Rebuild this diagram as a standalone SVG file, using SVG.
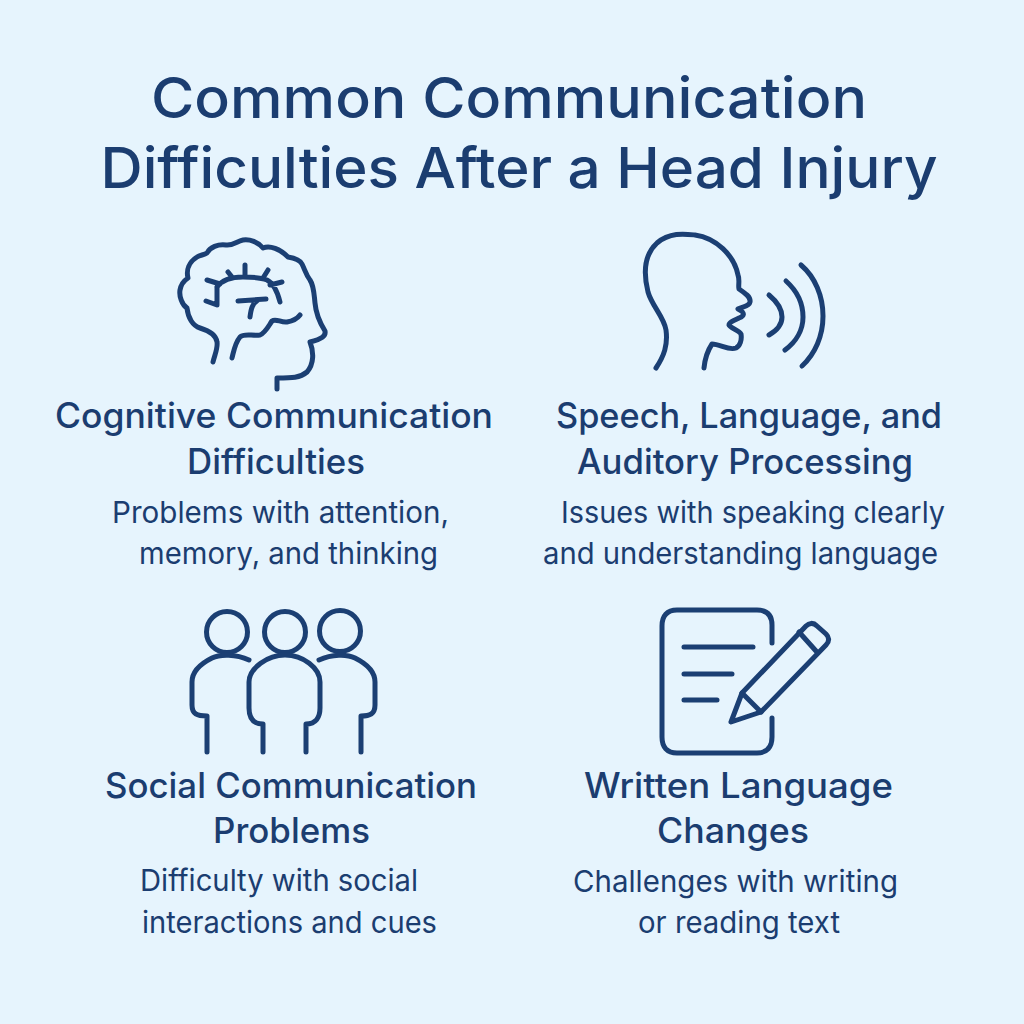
<svg xmlns="http://www.w3.org/2000/svg" width="1024" height="1024" viewBox="0 0 1024 1024">
<style>
.i{fill:none;stroke:#1b3f73;stroke-width:5;stroke-linecap:round;stroke-linejoin:round}
text{font-family:"Inter","Liberation Sans",sans-serif;fill:#1b3d70;text-anchor:middle}
.t{font-size:56px;font-weight:500}
.h{font-size:35px;font-weight:500}
.d{font-size:30px;font-weight:400}
</style>
<rect width="1024" height="1024" fill="#e6f4fd"/>
<g id="title">
<text class="t" x="509" y="118" textLength="716" lengthAdjust="spacingAndGlyphs">Common Communication</text>
<text class="t" x="519" y="188" textLength="837" lengthAdjust="spacingAndGlyphs">Difficulties After a Head Injury</text>
</g>
<g id="cognitive">
<g class="i">
<path d="M213 362 C215 354 218 348 217 342 C216 335 210 331 200 328 C193 326 188 318 187 308 C182 305 179 296 180 290 C181 284 185 280 188 278 C186 270 189 262 197 257 C200 255 204 255 207 253 C210 247 218 244 226 245 C233 246 237 241 243 240 C250 239 258 242 263 248 C270 245 280 249 288 257 C294 258 300 260 302 264 C305 270 306 275 310 280 C314 286 314 294 315 303 C316 315 320 323 325 331 C326 336 322 339 310 342 C314 352 314 364 307 372 C300 378 292 378 277 378 L277 389"/>
<path d="M207 280 L220 284 M217 287 C222 280 232 277 243 277 C254 277 262 278 267 280 C273 283 277 290 280 302 M217 287 V305 L206 301 M228 272 L232 277 M245 265 V277 M268 270 L263 278 M282 282 L270 285"/>
<path d="M238 301 L266 299 M250 317 C251 309 252 304 258 300"/>
<path d="M232 358 C234 350 235 343 240 337 C244 333 252 336 260 335 C265 333 268 327 272 321 C276 318 281 323 287 322 C293 321 297 319 300 315"/>
</g>
</g>
<g id="speech">
<g class="i">
<path d="M656 368 C664 356 668 345 666 330 C664 317 652 306 648 292 C643 272 645 254 657 243 C670 232 685 234 695 235 C716 238 734 255 738 275 C740 280 738 286 739 289 C745 293 751 297 750 302 C749 307 743 306 738 309 C746 313 744 316 739 318 C735 320 729 322 729 325 C730 328 739 330 741 334 C742 340 740 346 736 348 C729 351 720 344 712 344 C708 350 705 358 704 368"/>
<path d="M769 295 C775 300 782 308 782 317 C782 325 776 331 769 335"/>
<path d="M786 281 C796 290 803 303 803 317 C803 330 796 342 785 350"/>
<path d="M801 265 C815 277 823 296 823 316 C823 336 815 354 802 366"/>
</g>
</g>
<g id="social">
<g class="i">
<circle cx="227" cy="632" r="20.500"/>
<circle cx="285" cy="632" r="20.500"/>
<circle cx="340" cy="631" r="20.500"/>
<path d="M249 660 C236 654 220 654 212 658 C200 664 192 672 192 682 V705 C192 714 197 716 207 716 V752"/>
<path d="M263 752 V724 C252 724 249 717 249 708 V682 C249 668 268 655 285 655 C303 655 320 668 320 682 V708 C320 717 316 724 306 724 V752"/>
<path d="M319 660 C332 654 347 654 355 658 C367 664 375 672 375 682 V705 C375 714 370 716 361 716 V752"/>
</g>
</g>
<g id="written">
<g class="i">
<path d="M772 643 V625 C772 614 766 610 757 610 H677 C667 610 662 616 662 626 V737 C662 747 667 753 677 753 H757 C767 753 772 747 772 737 V718"/>
<path d="M684 647 H753 M684 674 H732 M684 700 H717"/>
<path d="M742 693 L731 722 L761 712 L826 645 C830 641 829 637 826 634 L817 626 C813 622 809 623 806 626 Z"/>
<path d="M742 693 L761 712 M799 632 L816 651"/>
</g>
</g>
<g id="labels">
<text class="h" x="274" y="428" textLength="438" lengthAdjust="spacingAndGlyphs">Cognitive Communication</text>
<text class="h" x="276" y="474" textLength="178" lengthAdjust="spacingAndGlyphs">Difficulties</text>
<text class="d" x="280.500" y="523" textLength="337" lengthAdjust="spacingAndGlyphs">Problems with attention,</text>
<text class="d" x="288.500" y="564" textLength="299" lengthAdjust="spacingAndGlyphs">memory, and thinking</text>
<text class="h" x="749" y="428" textLength="386" lengthAdjust="spacingAndGlyphs">Speech, Language, and</text>
<text class="h" x="745" y="474" textLength="336" lengthAdjust="spacingAndGlyphs">Auditory Processing</text>
<text class="d" x="753" y="523" textLength="384" lengthAdjust="spacingAndGlyphs">Issues with speaking clearly</text>
<text class="d" x="740.500" y="564" textLength="395" lengthAdjust="spacingAndGlyphs">and understanding language</text>
<text class="h" x="291" y="798" textLength="372" lengthAdjust="spacingAndGlyphs">Social Communication</text>
<text class="h" x="291.500" y="843" textLength="157" lengthAdjust="spacingAndGlyphs">Problems</text>
<text class="d" x="279" y="891" textLength="278" lengthAdjust="spacingAndGlyphs">Difficulty with social</text>
<text class="d" x="289.500" y="933" textLength="295" lengthAdjust="spacingAndGlyphs">interactions and cues</text>
<text class="h" x="738.500" y="798" textLength="309" lengthAdjust="spacingAndGlyphs">Written Language</text>
<text class="h" x="733" y="843" textLength="152" lengthAdjust="spacingAndGlyphs">Changes</text>
<text class="d" x="735.500" y="892" textLength="325" lengthAdjust="spacingAndGlyphs">Challenges with writing</text>
<text class="d" x="739" y="933" textLength="202" lengthAdjust="spacingAndGlyphs">or reading text</text>
</g>
</svg>
